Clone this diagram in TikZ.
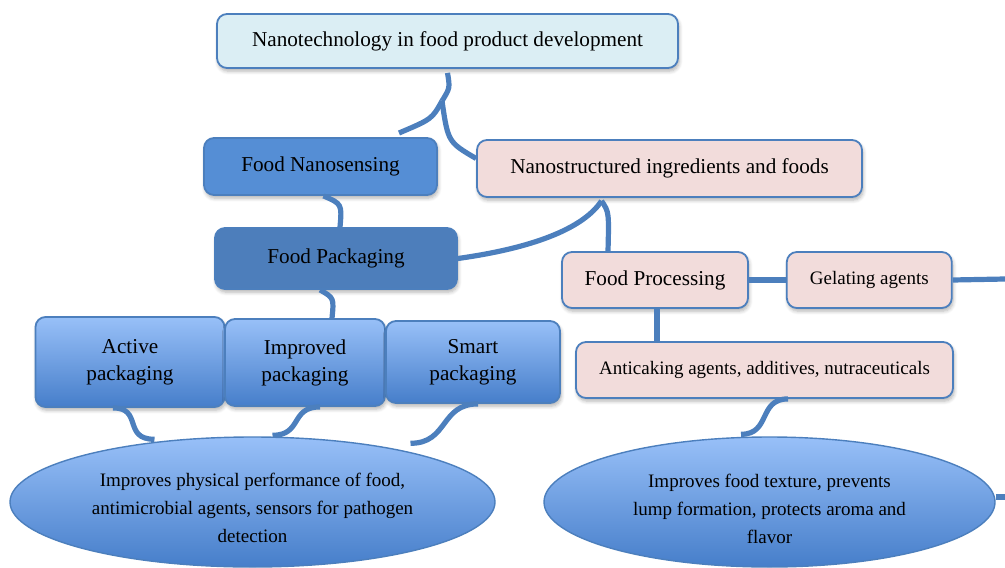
\documentclass[tikz,border=0pt]{standalone}
\usepackage{fontspec}
\setmainfont{Liberation Serif}
\usepackage{tikz}
\usetikzlibrary{shapes.geometric}
\usetikzlibrary{positioning, shadows.blur}

\definecolor{lineblue}{RGB}{76,127,189}
\definecolor{topfill}{RGB}{219,238,244}
\definecolor{sensefill}{RGB}{85,142,213}
\definecolor{packfill}{RGB}{77,126,187}
\definecolor{pinkfill}{RGB}{242,220,219}
\definecolor{gradtop}{RGB}{152,192,248}
\definecolor{gradbot}{RGB}{70,126,202}

\tikzset{
	box/.style		= {draw=lineblue, line width=0.9pt, rounded corners=5pt, inner sep=0pt, align=center,
					   blur shadow={shadow xshift=0.6pt, shadow yshift=-1.6pt, shadow blur steps=6, shadow opacity=30}},
	bigtext/.style	= {font=\fontsize{10.6}{13.5}\selectfont},
	smalltext/.style	= {font=\fontsize{9.5}{14}\selectfont},
	headbox/.style	= {box, bigtext, fill=topfill},
	areabox/.style	= {box, bigtext},
	pinkbox/.style	= {box, fill=pinkfill},
	kindbox/.style	= {box, bigtext, top color=gradtop, bottom color=gradbot},
	effect/.style	= {ellipse, draw=lineblue, line width=0.7pt, inner sep=0pt, align=center, smalltext,
					   top color=gradtop, bottom color=gradbot},
	link/.style		= {draw=lineblue, line width=2.6pt}
}

\begin{document}
\begin{tikzpicture}[x=0.5pt, y=-0.5pt]

\useasboundingbox (0,0) rectangle (1005,567);

% boxes
\node[headbox, minimum width=230.5pt, minimum height=27pt]					(top)	at (447.5,41)	{Nanotechnology in food product development};
\node[areabox, fill=sensefill, minimum width=116.5pt, minimum height=28.5pt]	(sense)	at (320.5,166.5)	{Food Nanosensing};
\node[pinkbox, bigtext, minimum width=192.5pt, minimum height=28.5pt]		(nano)	at (669.5,168.5)	{Nanostructured ingredients and foods};
\node[areabox, fill=packfill, minimum width=121pt, minimum height=30.5pt]	(pack)	at (336,258.5)	{Food Packaging};
\node[pinkbox, bigtext, minimum width=93pt, minimum height=28pt]			(proc)	at (655,280)		{Food Processing};
\node[pinkbox, smalltext, minimum width=82.5pt, minimum height=28pt]		(gel)	[right=18.5pt of proc]	{Gelating agents};
\node[pinkbox, smalltext, minimum width=188.5pt, minimum height=28pt]		(anti)	at (764.5,370)	{Anticaking agents, additives, nutraceuticals};

% kinds of packaging
\node[kindbox, minimum width=94.5pt, minimum height=45pt]					(act)	at (130,362)		{Active\\packaging};
\node[kindbox, minimum width=80pt, minimum height=43.5pt]					(impr)	at (305,362.5)	{Improved\\packaging};
\node[kindbox, minimum width=87pt, minimum height=41pt]						(smart)	at (473,362)		{Smart\\packaging};

% what they do (the strut pushes the lines a little down)
\node[effect, minimum width=242.5pt, minimum height=65pt]	(effL)	at (252.5,502)	{\rule{0pt}{12.5pt}Improves physical performance of food,\\antimicrobial agents, sensors for pathogen\\detection};
\node[effect, minimum width=225.5pt, minimum height=65pt]	(effR)	at (769.5,502)	{\rule{0pt}{13.5pt}Improves food texture, prevents\\lump formation, protects aroma and\\flavor};

% connectors
\coordinate (fork)		at (442,101);
\coordinate (senseTip)	at (399,133);
\coordinate (split)		at ([xshift=-34pt, yshift=-1.5pt]nano.south);
\coordinate (gelOut)	at (1005,279);
\coordinate (effOut)	at (1005,497);

\draw[link]	([yshift=-2pt]top.south)		.. controls (450,88) .. (fork);
\draw[link]	(fork)						.. controls (432,119) .. (senseTip);
\draw[link]	(fork)						.. controls (448,142) .. ([yshift=5pt]nano.west);
\draw[link]	([xshift=1.5pt]sense.south)		.. controls (342,204) .. ([xshift=2pt]pack.north);
\draw[link]	(pack.east)					.. controls (540,247) and (585,226) .. (split);
\draw[link]	(split)						.. controls (609,212) .. ([xshift=-23.5pt]proc.north);
\draw[link]	([xshift=-8pt]pack.south)		.. controls (334,298) .. ([xshift=13.5pt]impr.north);
\draw[link]	([xshift=-8.5pt]act.south)		.. controls +(30,0) and +(-32,0) .. ([xshift=-49pt, yshift=-1.5pt]effL.north);
\draw[link]	([xshift=7.5pt]impr.south)		.. controls +(-30,0) and +(30,0) .. ([xshift=10pt, yshift=0.5pt]effL.north);
\draw[link]	([xshift=2.5pt]smart.south)		.. controls +(-38,0) and +(38,0) .. ([xshift=79pt, yshift=-3.5pt]effL.north);
\draw[link]	([xshift=11.75pt]anti.south)	.. controls +(-30,0) and +(30,0) .. ([xshift=-14.25pt, yshift=1pt]effR.north);
\draw[link]	([xshift=1pt]proc.south)		-- ([xshift=1pt]proc.south |- anti.north);
\draw[link]	(proc.east)					-- (gel.west);
\draw[link]	(gel.east)					-- (gelOut);
\draw[link]	([yshift=2.5pt]effR.east)		-- (effOut);

\end{tikzpicture}
\end{document}
